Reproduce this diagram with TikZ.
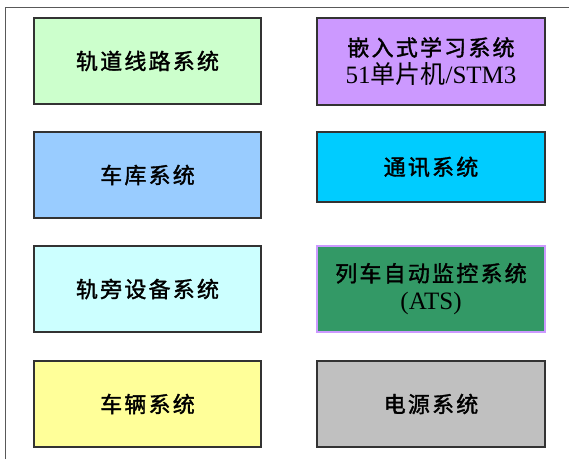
\documentclass[tikz,border=0pt]{standalone}
\usepackage{fontspec}
\setmainfont{Liberation Serif}
\newfontfamily\cjk{Noto Sans CJK SC}[LetterSpace=10,FakeBold=1.6]
\newfontfamily\cjkn{Noto Sans CJK SC}
\newcommand\lat[1]{{\fontsize{25}{28}\selectfont #1}}
\begin{document}
\begin{tikzpicture}[x=1pt,y=-1pt,
  sysbox/.style={draw=black!80,line width=1.1pt,minimum width=227pt,inner sep=0pt,align=center,
    font=\fontsize{22}{28}\selectfont},
  framel/.style={draw=black!65,line width=1pt}]
\useasboundingbox (0,0) rectangle (569,459);
\definecolor{cA}{HTML}{CCFFCC}
\definecolor{cB}{HTML}{CC99FF}
\definecolor{cC}{HTML}{99CCFF}
\definecolor{cD}{HTML}{00CCFF}
\definecolor{cE}{HTML}{CCFFFF}
\definecolor{cF}{HTML}{339966}
\definecolor{cG}{HTML}{FFFF99}
\definecolor{cH}{HTML}{C0C0C0}
\coordinate (fb) at (5,459);
\coordinate (fc) at (5,7);
\coordinate (fr) at (569,7);
\draw[framel] (fb) -- (fc) -- (fr);
\node[sysbox,fill=cA,minimum height=86pt] (n1) at (147.5,61) {\cjk 轨道线路系统};
\node[sysbox,fill=cB,minimum height=87pt,minimum width=228pt] (n2) at (431,61.5) {\cjk 嵌入式学习系统\\\lat{51{\cjkn 单片机}/STM3}};
\node[sysbox,fill=cC,minimum height=86pt] (n3) at (147.5,175) {\cjk 车库系统};
\node[sysbox,fill=cD,minimum height=70pt,minimum width=228pt] (n4) at (431,167) {\cjk 通讯系统};
\node[sysbox,fill=cE,minimum height=86pt] (n5) at (147.5,289) {\cjk 轨旁设备系统};
\node[sysbox,fill=cF,draw=cB,minimum height=86pt,minimum width=228pt] (n6) at (431,289) {\cjk 列车自动监控系统\\\lat{(ATS)}};
\node[sysbox,fill=cG,minimum height=86pt] (n7) at (147.5,404) {\cjk 车辆系统};
\node[sysbox,fill=cH,minimum height=86pt,minimum width=228pt] (n8) at (431,404) {\cjk 电源系统};
\end{tikzpicture}
\end{document}
